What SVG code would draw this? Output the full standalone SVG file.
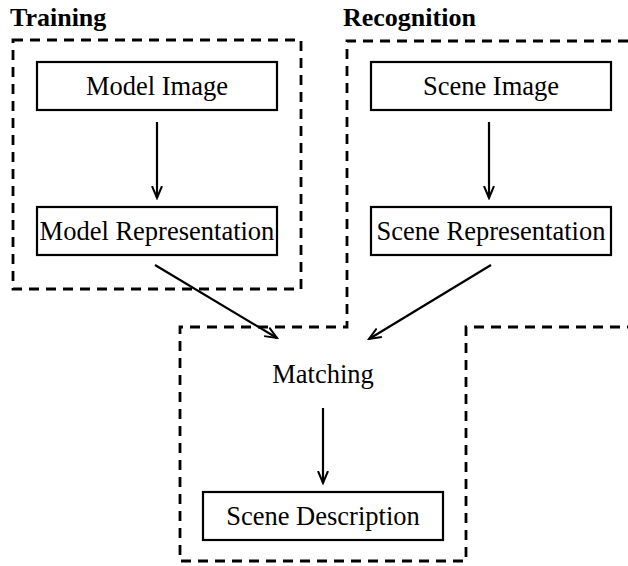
<svg xmlns="http://www.w3.org/2000/svg" width="628" height="566" viewBox="0 0 628 566">
<defs>
<marker id="ah" markerWidth="14" markerHeight="12" refX="12" refY="6" orient="auto" markerUnits="userSpaceOnUse">
<path d="M0,1 L12,6 L0,11" fill="none" stroke="#000" stroke-width="2"/>
</marker>
<style>
.box{fill:#fff;stroke:#000;stroke-width:2.2}
.dash{fill:none;stroke:#000;stroke-width:2.8;stroke-dasharray:10 7}
.lbl{font-family:"Liberation Serif","Times New Roman",serif;font-size:26.5px;fill:#000;text-anchor:middle}
.ttl{font-family:"Liberation Serif","Times New Roman",serif;font-size:26px;font-weight:bold;fill:#000}
.conn{stroke:#000;stroke-width:2.2;fill:none;marker-end:url(#ah)}
</style>
</defs>
<rect width="628" height="566" fill="#fff"/>
<g id="regions">
<rect class="dash" x="13" y="40" width="288" height="249"/>
<path class="dash" d="M628,41 H347 V327 H180 V561 H466 V327 H628"/>
<text class="ttl" x="10" y="26">Training</text>
<text class="ttl" x="343" y="26">Recognition</text>
</g>
<g id="model-image">
<rect class="box" x="37" y="62" width="240" height="48"/>
<text class="lbl" x="157" y="95">Model Image</text>
</g>
<g id="model-representation">
<rect class="box" x="37" y="207" width="240" height="48"/>
<text class="lbl" x="157" y="240">Model Representation</text>
</g>
<g id="scene-image">
<rect class="box" x="371" y="62" width="240" height="48"/>
<text class="lbl" x="491" y="95">Scene Image</text>
</g>
<g id="scene-representation">
<rect class="box" x="371" y="207" width="240" height="48"/>
<text class="lbl" x="491" y="240">Scene Representation</text>
</g>
<g id="matching">
<text class="lbl" x="323" y="383">Matching</text>
</g>
<g id="scene-description">
<rect class="box" x="203" y="492" width="240" height="48"/>
<text class="lbl" x="323" y="525">Scene Description</text>
</g>
<g id="connectors">
<line class="conn" x1="157" y1="122" x2="157" y2="198"/>
<line class="conn" x1="489" y1="122" x2="489" y2="198"/>
<line class="conn" x1="155" y1="265" x2="277" y2="338"/>
<line class="conn" x1="491" y1="265" x2="369" y2="339"/>
<line class="conn" x1="323" y1="408" x2="323" y2="483"/>
</g>
</svg>
